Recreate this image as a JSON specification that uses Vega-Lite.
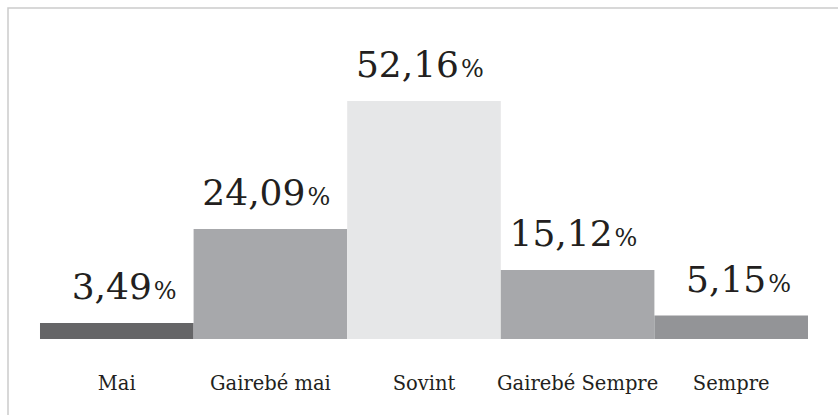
{
  "$schema": "https://vega.github.io/schema/vega-lite/v6.json",
  "autosize": "none",
  "padding": {"left": 8, "top": 8, "right": 0, "bottom": 0},
  "width": 832,
  "height": 410,
  "background": "white",
  "config": {
    "locale": {"number": {"decimal": ",", "thousands": ".", "grouping": [3], "currency": ["", " €"]}},
    "view": {"stroke": "#cbcbcb", "strokeWidth": 1.5},
    "font": "DejaVu Serif"
  },
  "data": {
    "values": [
      {"cat": "Mai", "value": 3.49},
      {"cat": "Gairebé mai", "value": 24.09},
      {"cat": "Sovint", "value": 52.16},
      {"cat": "Gairebé Sempre", "value": 15.12},
      {"cat": "Sempre", "value": 5.15}
    ]
  },
  "encoding": {
    "x": {
      "field": "cat", "type": "nominal", "sort": null,
      "scale": {"paddingInner": 0, "paddingOuter": 0.2083},
      "axis": {
        "title": null, "labelAngle": 0, "domain": false, "ticks": false, "grid": false,
        "offset": -79, "labelPadding": 50, "labelBaseline": "alphabetic",
        "labelFont": "DejaVu Serif", "labelFontSize": 19.5, "labelColor": "#231f20"
      }
    },
    "y": {
      "field": "value", "type": "quantitative",
      "scale": {"domain": [0, 72.54], "range": [331, 0], "nice": false, "zero": true},
      "axis": null
    }
  },
  "layer": [
    {
      "mark": {"type": "bar"},
      "encoding": {
        "color": {
          "field": "cat", "type": "nominal", "sort": null, "legend": null,
          "scale": {
            "domain": ["Mai", "Gairebé mai", "Sovint", "Gairebé Sempre", "Sempre"],
            "range": ["#656567", "#a7a8ab", "#e6e7e8", "#a7a8ab", "#939497"]
          }
        }
      }
    },
    {
      "mark": {"type": "text", "align": "right", "baseline": "alphabetic", "dx": 35, "dy": -24, "fontSize": 36, "color": "#231f20", "font": "DejaVu Serif"},
      "encoding": {"text": {"field": "value", "type": "quantitative", "format": ".2f"}}
    },
    {
      "mark": {"type": "text", "align": "left", "baseline": "alphabetic", "dx": 37, "dy": -24, "fontSize": 24, "color": "#231f20", "font": "DejaVu Serif"},
      "encoding": {"text": {"value": "%"}}
    }
  ]
}
